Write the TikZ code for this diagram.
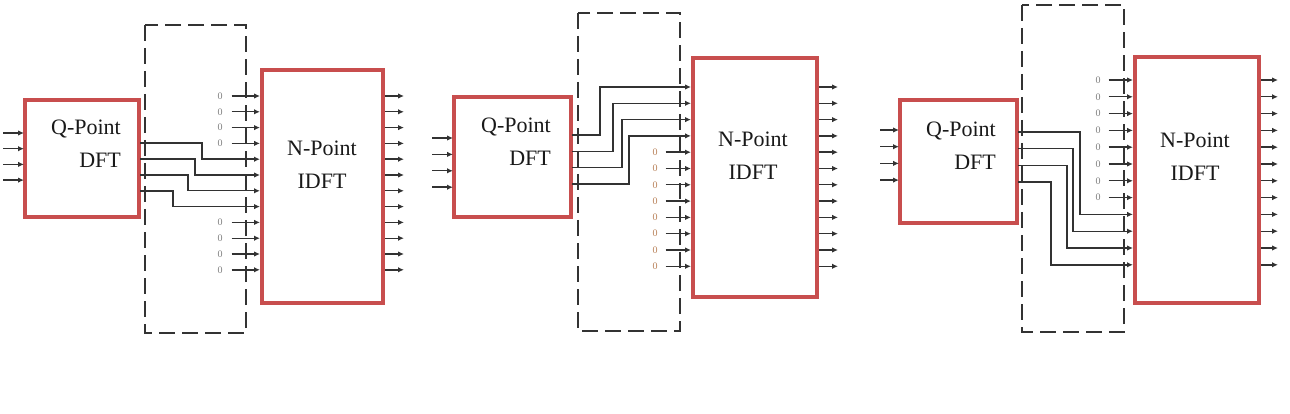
\documentclass[tikz,border=0pt]{standalone}
\usepackage{fontspec}
\setmainfont{Liberation Serif}
\usetikzlibrary{arrows.meta, positioning}

\definecolor{boxred}{RGB}{200,78,78}
\definecolor{sigline}{RGB}{50,50,50}
\definecolor{zerotan}{RGB}{185,130,90}

\tikzset{
  blockbox/.style={draw=boxred, line width=3.2pt, fill=white, inner sep=0pt},
  blocktext/.style={font=\fontsize{22}{33}\selectfont, text=black!90, inner sep=0pt},
  sig/.style={draw=sigline, line width=1.4pt, -{Latex[length=6pt,width=5.5pt]}},
  zerolbl/.style={font=\fontsize{10}{10}\selectfont, text=gray, inner sep=0pt},
  frame/.style={draw=black!80, line width=2.7pt, dash pattern=on 16pt off 7pt},
}

\begin{document}
\begin{tikzpicture}[x=1pt, y=-1pt]
    \useasboundingbox (0,0) rectangle (1290,414);

    % ---------- first mapping: data in the middle ----------
    \draw[frame] (145,25) rectangle (246,333);
    \node[blockbox, minimum width=114pt, minimum height=117pt] (q1) at (82,158.5) {};
    \node[blocktext, align=right] (q1t) at (86,143.5) {Q-Point\\DFT};

    \foreach \i in {1,...,4} {
        \coordinate (a1-\i) at (3, {133+15.7*(\i-1)});
        \coordinate (qi1-\i) at (24, {133+15.7*(\i-1)});
        \draw[sig] (a1-\i) -- (qi1-\i);
        \coordinate (qo1-\i) at (140, {143+16*(\i-1)});
    }
    \foreach \i in {1,...,12} {
        \coordinate (ni1-\i) at (260, {96+15.8*(\i-1)});
        \coordinate (no1-\i) at (385, {96+15.8*(\i-1)});
        \coordinate (oe1-\i) at (404, {96+15.8*(\i-1)});
        \draw[sig] (no1-\i) -- (oe1-\i);
    }
    \foreach \i in {1,2,3,4,9,10,11,12} {
        \node[zerolbl] (z1-\i) at (220, {96+15.8*(\i-1)}) {0};
        \draw[sig, shorten <=9pt] (z1-\i) -- (ni1-\i);
    }
    \foreach \i/\dx/\k in {1/62/5, 2/55/6, 3/48/7, 4/33/8}
        \draw[sig] (qo1-\i) -- ++(\dx,0) |- (ni1-\k);

    \node[blockbox, minimum width=121pt, minimum height=233pt] (n1) at (322.5,186.5) {};
    \node[blocktext, align=center] (n1t) at (322,165) {N-Point\\IDFT};

    % ---------- second mapping: data at the top ----------
    \draw[frame] (578,13) rectangle (680,331);
    \node[blockbox, minimum width=117pt, minimum height=120pt] (q2) at (512.5,157) {};
    \node[blocktext, align=right] (q2t) at (516,141.5) {Q-Point\\DFT};

    \foreach \i in {1,...,4} {
        \coordinate (a2-\i) at (432, {138+16.4*(\i-1)});
        \coordinate (qi2-\i) at (453, {138+16.4*(\i-1)});
        \draw[sig] (a2-\i) -- (qi2-\i);
        \coordinate (qo2-\i) at (572, {135+16.3*(\i-1)});
    }
    \foreach \i in {1,...,12} {
        \coordinate (ni2-\i) at (691, {87+16.3*(\i-1)});
        \coordinate (no2-\i) at (819, {87+16.3*(\i-1)});
        \coordinate (oe2-\i) at (838, {87+16.3*(\i-1)});
        \draw[sig] (no2-\i) -- (oe2-\i);
    }
    \foreach \i in {5,...,12} {
        \node[zerolbl, text=zerotan] (z2-\i) at (655, {87+16.3*(\i-1)}) {0};
        \draw[sig, shorten <=8pt] (z2-\i) -- (ni2-\i);
    }
    \foreach \i/\dx/\k in {1/28/1, 2/41/2, 3/50/3, 4/57/4}
        \draw[sig] (qo2-\i) -- ++(\dx,0) |- (ni2-\k);

    \node[blockbox, minimum width=124pt, minimum height=239pt] (n2) at (755,177.5) {};
    \node[blocktext, align=center] (n2t) at (753,155.5) {N-Point\\IDFT};

    % ---------- third mapping: data at the bottom ----------
    \draw[frame] (1022,5) rectangle (1124,332);
    \node[blockbox, minimum width=117pt, minimum height=123pt] (q3) at (958.5,161.5) {};
    \node[blocktext, align=right] (q3t) at (961,146) {Q-Point\\DFT};

    \foreach \i in {1,...,4} {
        \coordinate (a3-\i) at (880, {130+16.7*(\i-1)});
        \coordinate (qi3-\i) at (899, {130+16.7*(\i-1)});
        \draw[sig] (a3-\i) -- (qi3-\i);
        \coordinate (qo3-\i) at (1018, {132+16.7*(\i-1)});
    }
    \foreach \i in {1,...,12} {
        \coordinate (ni3-\i) at (1133, {80+16.8*(\i-1)});
        \coordinate (no3-\i) at (1261, {80+16.8*(\i-1)});
        \coordinate (oe3-\i) at (1278, {80+16.8*(\i-1)});
        \draw[sig] (no3-\i) -- (oe3-\i);
    }
    \foreach \i in {1,...,8} {
        \node[zerolbl] (z3-\i) at (1098, {80+16.8*(\i-1)}) {0};
        \draw[sig, shorten <=8pt] (z3-\i) -- (ni3-\i);
    }
    \foreach \i/\dx/\k in {1/62/9, 2/55/10, 3/49/11, 4/33/12}
        \draw[sig] (qo3-\i) -- ++(\dx,0) |- (ni3-\k);

    \node[blockbox, minimum width=124pt, minimum height=246pt] (n3) at (1197,180) {};
    \node[blocktext, align=center] (n3t) at (1195,156.5) {N-Point\\IDFT};
\end{tikzpicture}
\end{document}
